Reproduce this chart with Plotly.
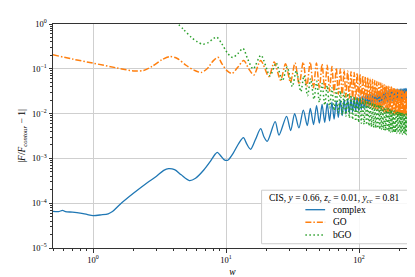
import plotly.graph_objects as go

# ---------------- data ----------------
# complex (CIS) — low-w part (explicit points)
complex_w = [0.5, 0.55, 0.59, 0.62, 0.7, 0.8, 0.9, 1.0, 1.15, 1.3, 1.4, 1.6, 2.0, 2.57, 3.0, 3.4, 3.7,
             4.1, 4.6, 5.3, 5.9, 6.8, 7.6, 8.3, 8.6, 9.1, 9.7, 10.3, 11.3, 12.5, 13.5, 14.3, 15.3,
             16.6, 18.2, 19.3, 20.4, 23.4, 25.0, 28.5, 30.6, 32.8, 35.3, 38.1, 40.8, 43.0, 45.5, 47.9, 50.3]
complex_f = [6.6e-5, 6.5e-5, 6.9e-5, 6.5e-5, 6.3e-5, 6.0e-5, 5.6e-5, 5.3e-5, 5.5e-5, 5.8e-5, 6.5e-5, 9.5e-5, 1.64e-4, 2.9e-4, 4.0e-4, 5.4e-4, 5.9e-4,
             5.6e-4, 4.3e-4, 3.2e-4, 3.6e-4, 5.5e-4, 8.5e-4, 1.25e-3, 1.36e-3, 1.15e-3, 9.3e-4, 9.1e-4, 1.3e-3, 2.2e-3, 2.9e-3, 2.1e-3, 1.6e-3,
             2.6e-3, 4.6e-3, 3.0e-3, 2.4e-3, 6.6e-3, 3.3e-3, 8.7e-3, 4.2e-3, 1.0e-2, 4.8e-3, 1.2e-2, 5.4e-3, 1.3e-2, 5.7e-3, 1.5e-2, 6.1e-3]

# GO — low-w part
go_w = [0.5, 0.7, 1.0, 1.5, 2.07, 2.4, 2.8, 3.3, 3.78, 4.3, 5.0, 5.8, 6.5, 7.2, 8.0, 8.7, 9.3, 10.2, 11.1,
        12.3, 13.6, 14.8, 16.2, 18.2, 21.0, 23.0, 25.7, 28.0, 30.5, 33.0, 35.5, 38.0, 40.5, 42.9, 45.4, 47.8, 50.3]
go_f = [0.205, 0.165, 0.134, 0.105, 0.089, 0.092, 0.115, 0.16, 0.188, 0.17, 0.12, 0.092, 0.083, 0.1, 0.15, 0.18, 0.13, 0.09, 0.079,
        0.11, 0.154, 0.1, 0.073, 0.154, 0.067, 0.141, 0.056, 0.13, 0.05, 0.135, 0.045, 0.14, 0.04, 0.14, 0.038, 0.135, 0.036]

# bGO — low-w part
bgo_w = [4.0, 4.8, 5.5, 6.1, 6.66, 7.3, 8.0, 8.5, 9.2, 10.2, 11.2, 12.3, 13.4, 14.6, 16.0, 18.3, 21.4, 23.8,
         26.5, 28.8, 31.5, 33.7, 36.5, 38.5, 41.0, 43.2, 45.8, 48.0, 50.3]
bgo_f = [1.3, 0.75, 0.5, 0.4, 0.355, 0.38, 0.47, 0.51, 0.38, 0.23, 0.178, 0.22, 0.285, 0.16, 0.1, 0.2, 0.07, 0.135,
         0.054, 0.11, 0.04, 0.09, 0.031, 0.07, 0.025, 0.06, 0.021, 0.053, 0.018]

# dense oscillating region: maxima / minima positions
peak_w = [52.7, 57.6, 62.5, 67.4, 72.3, 77.2, 82.1, 87.0, 91.9, 96.8, 101.7, 106.6, 111.5, 116.4, 121.3, 126.2,
          131.1, 136.0, 140.9, 145.8, 150.7, 155.6, 160.5, 165.4, 170.3, 175.2, 180.1, 185.0, 189.9, 194.8,
          199.7, 204.6, 209.5, 214.4, 219.3, 224.2, 229.1, 234.0, 238.9, 243.8, 248.7]
trough_w = [55.2, 60.0, 64.9, 69.8, 74.7, 79.6, 84.5, 89.4, 94.3, 99.2, 104.1, 109.0, 113.9, 118.8, 123.7, 128.6,
            133.5, 138.4, 143.3, 148.2, 153.1, 158.0, 162.9, 167.8, 172.7, 177.6, 182.5, 187.4, 192.3, 197.2,
            202.1, 207.0, 211.9, 216.8, 221.7, 226.6, 231.5, 236.4, 241.3, 246.2, 251.1]

complex_peaks = [0.016, 0.017, 0.018, 0.019, 0.0197, 0.0205, 0.021, 0.022, 0.0225, 0.023, 0.024, 0.0245, 0.0255, 0.026,
                 0.027, 0.028, 0.029, 0.030, 0.0305, 0.031, 0.032, 0.0325, 0.033, 0.0333, 0.0337, 0.034, 0.0343,
                 0.0346, 0.035, 0.035, 0.0353, 0.0355, 0.0358, 0.036, 0.0362, 0.0364, 0.0366, 0.0367, 0.0368, 0.0369, 0.037]
complex_troughs = [0.0064, 0.0069, 0.0075, 0.0082, 0.0090, 0.0098, 0.0103, 0.0108, 0.0113, 0.0117, 0.0123, 0.0128,
                   0.0134, 0.0139, 0.0145, 0.0150, 0.0156, 0.0161, 0.0166, 0.0170, 0.0173, 0.0177, 0.0180, 0.0183,
                   0.0186, 0.0189, 0.0193, 0.0196, 0.0199, 0.0201, 0.0202, 0.0203, 0.0204, 0.0205, 0.0206, 0.0207,
                   0.0208, 0.0208, 0.0209, 0.0210, 0.0210]

go_peaks = [0.128, 0.120, 0.112, 0.105, 0.099, 0.094, 0.089, 0.086, 0.083, 0.080, 0.076, 0.071, 0.067, 0.064, 0.061,
            0.058, 0.055, 0.052, 0.050, 0.048, 0.046, 0.044, 0.042, 0.041, 0.040, 0.039, 0.037, 0.036, 0.035, 0.035,
            0.034, 0.033, 0.033, 0.032, 0.032, 0.031, 0.031, 0.030, 0.030, 0.029, 0.029]
go_troughs = [0.034, 0.032, 0.029, 0.027, 0.025, 0.023, 0.022, 0.021, 0.020, 0.019, 0.017, 0.016, 0.015, 0.0145,
              0.0138, 0.013, 0.0124, 0.012, 0.0116, 0.0112, 0.0109, 0.0107, 0.0105, 0.0103, 0.0101, 0.0099, 0.0098,
              0.0096, 0.0095, 0.0094, 0.0093, 0.0093, 0.0092, 0.0092, 0.0091, 0.0091, 0.0090, 0.0090, 0.0090,
              0.0090, 0.0090]

bgo_peaks = [0.047, 0.042, 0.038, 0.035, 0.032, 0.030, 0.028, 0.026, 0.024, 0.023, 0.022, 0.021, 0.020, 0.019, 0.018,
             0.0172, 0.0165, 0.016, 0.0155, 0.015, 0.0143, 0.0138, 0.0132, 0.0128, 0.0124, 0.012, 0.0117, 0.0114,
             0.0111, 0.011, 0.0108, 0.0106, 0.0104, 0.0102, 0.0101, 0.0099, 0.0098, 0.0097, 0.0096, 0.0095, 0.0095]
bgo_troughs = [0.0155, 0.0135, 0.0118, 0.0105, 0.0095, 0.0087, 0.0080, 0.0074, 0.0068, 0.0064, 0.0061, 0.0058,
               0.0056, 0.0053, 0.0051, 0.0049, 0.0048, 0.0047, 0.0045, 0.0044, 0.0043, 0.0042, 0.0041, 0.0040,
               0.0039, 0.0039, 0.0038, 0.0038, 0.0037, 0.0037, 0.0036, 0.0036, 0.0035, 0.0035, 0.0035, 0.0034,
               0.0034, 0.0034, 0.0033, 0.0033, 0.0033]

series_names = ["complex", "GO", "bGO"]
legend_title = "CIS, <i>y</i> = 0.66, <i>z<sub>c</sub></i> = 0.01, <i>y<sub>cc</sub></i> = 0.81"

x_tickvals = [1, 10, 100]
x_ticktext = ["10<sup>0</sup>", "10<sup>1</sup>", "10<sup>2</sup>"]
y_tickvals = [1e-5, 1e-4, 1e-3, 1e-2, 1e-1, 1]
y_ticktext = ["10<sup>−5</sup>", "10<sup>−4</sup>", "10<sup>−3</sup>", "10<sup>−2</sup>", "10<sup>−1</sup>", "10<sup>0</sup>"]


def build(w_low, f_low, peaks, troughs):
    w = list(w_low)
    f = list(f_low)
    for pw, pv, tw, tv in zip(peak_w, peaks, trough_w, troughs):
        w += [pw, tw]
        f += [pv, tv]
    return w, f


cw, cf = build(complex_w, complex_f, complex_peaks, complex_troughs)
gw, gf = build(go_w, go_f, go_peaks, go_troughs)
bw, bf = build(bgo_w, bgo_f, bgo_peaks, bgo_troughs)

FONT = "Liberation Serif, DejaVu Serif, serif"
TXT = "#000000"

colors = ["#1f77b4", "#ff7f0e", "#2ca02c"]
dashes = ["solid", "6px,2px,1.5px,2px", "1.5px,2.5px"]
widths = [1.3, 1.5, 1.5]

fig = go.Figure()
for (xs, ys), nm, c, d, wd in zip([(cw, cf), (gw, gf), (bw, bf)], series_names, colors, dashes, widths):
    fig.add_trace(go.Scatter(x=xs, y=ys, mode="lines", name=nm, showlegend=False,
                             line=dict(color=c, width=wd, dash=d, shape="spline", smoothing=0.8)))

axis_common = dict(
    type="log", showline=True, linecolor="#333333", linewidth=1, mirror=True,
    ticks="outside", ticklen=3.5, tickwidth=0.8, tickcolor="#333333",
    showgrid=True, gridcolor="#cfcfcf", gridwidth=0.8, zeroline=False,
    tickfont=dict(family=FONT, size=8.5, color=TXT),
    minor=dict(ticks="outside", ticklen=2, tickwidth=0.6, tickcolor="#333333", showgrid=False, dtick="D1"),
)

fig.update_xaxes(**axis_common, range=[-0.30103, 2.39794], tickvals=x_tickvals, ticktext=x_ticktext,
                 title=dict(text="<i>w</i>", font=dict(family=FONT, size=9.5, color=TXT), standoff=4))
fig.update_yaxes(**axis_common, range=[-5, 0], tickvals=y_tickvals, ticktext=y_ticktext,
                 title=dict(text="|<i>F</i>/<i>F</i><sub><i>contour</i></sub> − 1|",
                            font=dict(family=FONT, size=9.5, color=TXT), standoff=4))

# ---- manual legend (matplotlib-like compact box) ----
LX0, LX1, LY0, LY1 = 0.581, 0.989, 0.019, 0.258
shapes = [dict(type="rect", xref="paper", yref="paper", x0=LX0, x1=LX1, y0=LY0, y1=LY1,
               fillcolor="rgba(255,255,255,0.85)", line=dict(color="#cccccc", width=1), layer="above")]
annotations = [dict(xref="paper", yref="paper", x=0.784, y=0.219, text=legend_title, showarrow=False,
                    xanchor="center", yanchor="middle", font=dict(family=FONT, size=9.5, color=TXT))]
row_y = [0.171, 0.115, 0.058]
for nm, c, d, wd, ry in zip(series_names, colors, dashes, widths, row_y):
    shapes.append(dict(type="line", xref="paper", yref="paper", x0=0.703, x1=0.758, y0=ry, y1=ry,
                       line=dict(color=c, width=wd, dash=d), layer="above"))
    annotations.append(dict(xref="paper", yref="paper", x=0.773, y=ry, text=nm, showarrow=False,
                            xanchor="left", yanchor="middle", font=dict(family=FONT, size=9.5, color=TXT)))

fig.update_layout(
    width=415, height=277,
    margin=dict(l=45, r=10, t=13, b=35),
    paper_bgcolor="white", plot_bgcolor="white",
    showlegend=False,
    shapes=shapes, annotations=annotations,
)

fig.write_html("out.html")
